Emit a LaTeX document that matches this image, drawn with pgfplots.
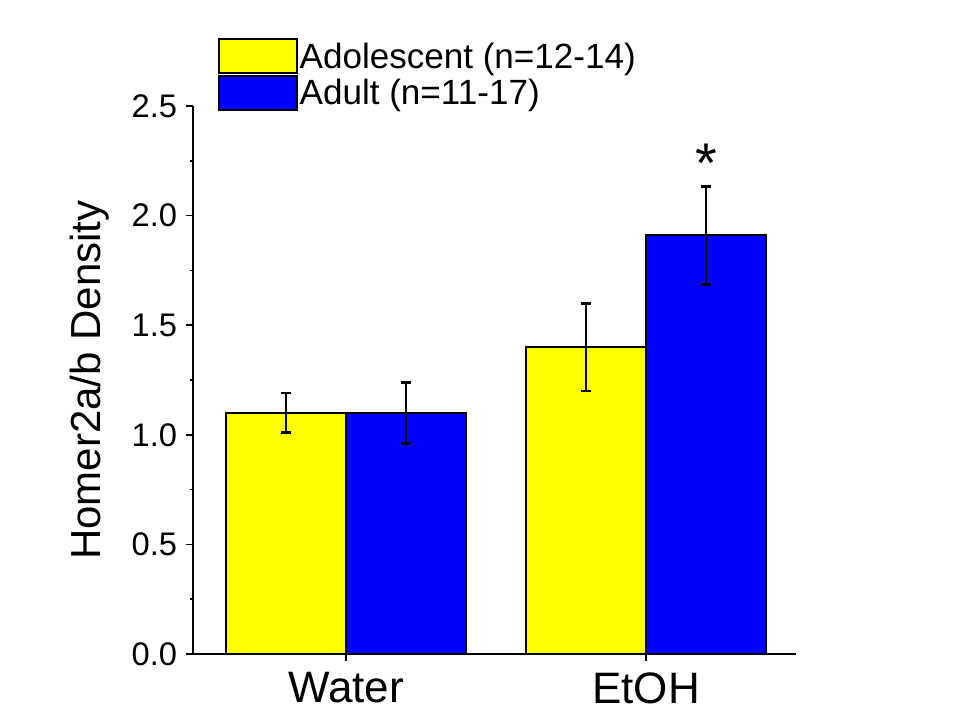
\documentclass[border=0pt]{standalone}
\usepackage{fontspec}
\setmainfont{Liberation Sans}
\usepackage{pgfplots}
\pgfplotsset{compat=1.18}
\definecolor{yel}{RGB}{255,255,0}
\definecolor{blu}{RGB}{0,0,255}
\begin{document}
\begin{tikzpicture}
\path[use as bounding box] (-144.75pt,-44.25pt) rectangle (577.5pt,490.5pt);
\begin{axis}[
  at={(0,0)}, anchor=south west,
  scale only axis, width=452.25pt, height=411pt,
  xmin=-0.51, xmax=1.5, ymin=0, ymax=2.5,
  axis lines=left, axis line style={-, line width=1.5pt},
  ytick={0,0.5,1,1.5,2,2.5},
  minor y tick num=1,
  xtick={0,1}, xticklabels={Water,EtOH},
  tick align=outside,
  major tick length=5.25pt, minor tick length=2.5pt,
  tick style={line width=1.3pt, black},
  /pgf/number format/assume math mode=true,
  /pgf/number format/fixed, /pgf/number format/fixed zerofill,
  /pgf/number format/precision=1,
  yticklabel style={font=\fontsize{24.5}{28}\selectfont, inner sep=0pt, xshift=-6.5pt},
  xticklabel style={font=\fontsize{33}{38}\selectfont, inner sep=0pt, yshift=-8.5pt},
  ylabel={Homer2a/b Density},
  every axis y label/.style={at={(axis description cs:-0.154,0.5)}, rotate=90, anchor=base,
    font=\fontsize{31.5}{36}\selectfont},
  ybar, bar width=0.4, bar shift=0pt,
  error bars/error bar style={line width=2pt, black},
  error bars/error mark options={rotate=90, mark size=3.75pt, line width=2pt, black},
  legend style={at={(rel axis cs:0.0415,1.124)}, anchor=north west, draw=none, fill=none,
    inner sep=0pt, row sep=0.5pt, font=\fontsize{26.3}{30}\selectfont,
    nodes={inner sep=1pt, anchor=west}},
  legend cell align=left,
  legend image code/.code={\draw[#1, line width=1.5pt] (0pt,-12.75pt) rectangle (58.5pt,12.75pt);},
]
\addplot[fill=yel, draw=black, line width=1.5pt,
  error bars/.cd, y dir=both, y explicit]
  coordinates {(-0.2,1.10) +- (0,0.09) (0.8,1.40) +- (0,0.20)};
\addlegendentry{Adolescent (n=12-14)}
\addplot[fill=blu, draw=black, line width=1.5pt,
  error bars/.cd, y dir=both, y explicit]
  coordinates {(0.2,1.10) +- (0,0.14) (1.2,1.91) +- (0,0.223)};
\addlegendentry{Adult (n=11-17)}
\node[anchor=base, font=\fontsize{42}{44}\selectfont, inner sep=0pt] at (axis cs:1.2,2.15) {*};
\end{axis}
\end{tikzpicture}
\end{document}
